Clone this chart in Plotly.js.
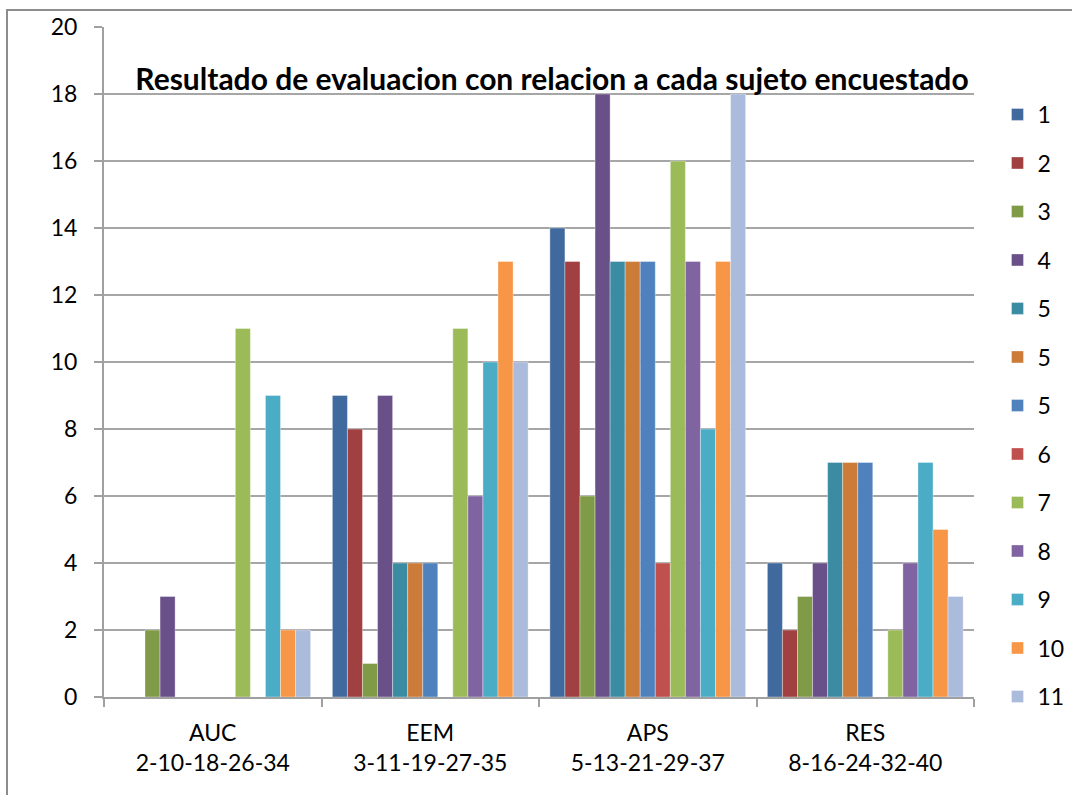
<!DOCTYPE html>
<html>
<head>
<meta charset="utf-8">
<script src="https://cdn.plot.ly/plotly-3.0.1.min.js"></script>
<style>html,body{margin:0;padding:0;background:#fff;}#chart{width:1072px;height:795px;}</style>
</head>
<body>
<div id="chart"></div>
<script>
const categories = ["AUC<br>2-10-18-26-34", "EEM<br>3-11-19-27-35", "APS<br>5-13-21-29-37", "RES<br>8-16-24-32-40"];
const seriesNames = ["1", "2", "3", "4", "5", "5", "5", "6", "7", "8", "9", "10", "11"];
const s1  = [0, 9, 14, 4];
const s2  = [0, 8, 13, 2];
const s3  = [2, 1, 6, 3];
const s4  = [3, 9, 18, 4];
const s5a = [0, 4, 13, 7];
const s5b = [0, 4, 13, 7];
const s5c = [0, 4, 13, 7];
const s6  = [0, 0, 4, 0];
const s7  = [11, 11, 16, 2];
const s8  = [0, 6, 13, 4];
const s9  = [9, 10, 8, 7];
const s10 = [2, 13, 13, 5];
const s11 = [2, 10, 18, 3];
const seriesValues = [s1, s2, s3, s4, s5a, s5b, s5c, s6, s7, s8, s9, s10, s11];
const colors = ["#406a9e", "#a04040", "#809b48", "#6a5089", "#3b8ba3", "#cd7b38", "#4f81bd", "#c0504d", "#9bbb59", "#8064a2", "#4bacc6", "#f79646", "#aabbdb"];

const FONT = "Lato, 'Liberation Sans', sans-serif";
const traces = seriesValues.map((vals, i) => ({
  type: "bar",
  name: seriesNames[i],
  x: categories,
  y: vals,
  legendgroup: "g" + i,
  marker: {color: colors[i], line: {color: "rgba(255,255,255,0.35)", width: 1}},
  hoverinfo: "y"
}));

const layout = {
  width: 1072, height: 795,
  margin: {l: 104, r: 98, t: 27, b: 98, autoexpand: false},
  paper_bgcolor: "#fff", plot_bgcolor: "#fff",
  barmode: "group", bargap: 0.1, bargroupgap: 0,
  font: {family: FONT, size: 23, color: "#000"},
  title: {
    text: "<b>Resultado de evaluacion con relacion a cada sujeto encuestado</b>",
    font: {family: FONT, size: 30, color: "#000", weight: 700},
    x: 552/1072, xref: "container", xanchor: "center",
    y: 1 - 79/795, yref: "container", yanchor: "middle"
  },
  xaxis: {
    type: "category",
    tickson: "boundaries",
    ticks: "outside", ticklen: 8, tickwidth: 2, tickcolor: "#a0a0a0",
    showline: true, linecolor: "#a0a0a0", linewidth: 2,
    showgrid: false,
    ticklabelstandoff: 14,
    tickfont: {family: FONT, size: 23, color: "#000"},
    fixedrange: true
  },
  yaxis: {
    range: [0, 20], dtick: 2, tick0: 0,
    ticks: "outside", ticklen: 8, tickwidth: 2, tickcolor: "#a0a0a0",
    showline: true, linecolor: "#a0a0a0", linewidth: 2,
    showgrid: true, gridcolor: "#a6a6a6", gridwidth: 2,
    zeroline: false,
    ticklabelstandoff: 12,
    tickfont: {family: FONT, size: 23, color: "#000"},
    fixedrange: true
  },
  legend: {
    x: 1.027, xanchor: "left", y: 0.9015, yanchor: "top",
    font: {family: FONT, size: 23, color: "#000"},
    tracegroupgap: 15.6,
    itemwidth: 30,
    bgcolor: "rgba(0,0,0,0)"
  },
  shapes: [{
    type: "rect", xref: "paper", yref: "paper",
    x0: (7 - 104)/870, x1: 1.2, y0: -0.3, y1: 1 + (27 - 10)/670,
    line: {color: "#8c8c8c", width: 2}, fillcolor: "rgba(0,0,0,0)", layer: "below"
  }],
  showlegend: true
};

Plotly.newPlot("chart", traces, layout, {displayModeBar: false, staticPlot: true});
</script>
</body>
</html>
